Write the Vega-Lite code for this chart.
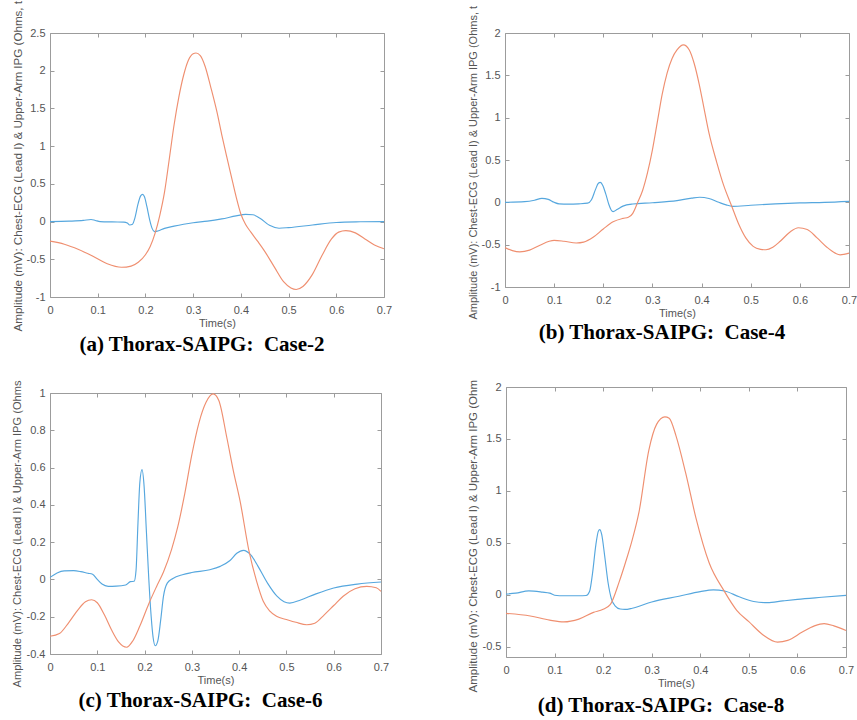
{
  "$schema": "https://vega.github.io/schema/vega-lite/v6.json",
  "background": "white",
  "padding": {"left": 10, "top": 0, "right": 0, "bottom": 0},
  "config": {
    "view": {"stroke": null},
    "font": "Liberation Sans",
    "axis": {"grid": false, "domainColor": "#9c9c9c", "tickColor": "#9c9c9c", "tickSize": -4, "labelFont": "Liberation Sans", "labelFontSize": 11, "labelColor": "#555555", "labelPadding": 9, "titleFont": "Liberation Sans", "titleFontSize": 11, "titleFontWeight": "normal", "titleColor": "#555555", "labelOverlap": false, "labelFlush": false},
    "axisX": {"labelPadding": 11, "titlePadding": 2},
    "title": {"font": "Liberation Serif", "fontSize": 21, "fontWeight": "bold", "color": "#000000", "orient": "bottom", "offset": 3, "dx": -15},
    "locale": {"number": {"decimal": ".", "thousands": ",", "grouping": [3], "currency": ["$", ""], "minus": "-"}}
  },
  "data": {"values": [
    {"p":"a","s":"E","t":0,"v":0},{"p":"a","s":"E","t":0.04,"v":0.005},{"p":"a","s":"E","t":0.07,"v":0.015},{"p":"a","s":"E","t":0.086,"v":0.028},{"p":"a","s":"E","t":0.095,"v":0.015},{"p":"a","s":"E","t":0.105,"v":0},{"p":"a","s":"E","t":0.13,"v":-0.005},{"p":"a","s":"E","t":0.155,"v":-0.007},{"p":"a","s":"E","t":0.162,"v":-0.02},{"p":"a","s":"E","t":0.167,"v":-0.045},{"p":"a","s":"E","t":0.173,"v":-0.035},{"p":"a","s":"E","t":0.178,"v":0.05},{"p":"a","s":"E","t":0.184,"v":0.22},{"p":"a","s":"E","t":0.19,"v":0.34},{"p":"a","s":"E","t":0.194,"v":0.36},{"p":"a","s":"E","t":0.198,"v":0.33},{"p":"a","s":"E","t":0.203,"v":0.2},{"p":"a","s":"E","t":0.209,"v":0.02},{"p":"a","s":"E","t":0.214,"v":-0.09},{"p":"a","s":"E","t":0.219,"v":-0.134},{"p":"a","s":"E","t":0.226,"v":-0.125},{"p":"a","s":"E","t":0.24,"v":-0.09},{"p":"a","s":"E","t":0.26,"v":-0.06},{"p":"a","s":"E","t":0.28,"v":-0.035},{"p":"a","s":"E","t":0.3,"v":-0.015},{"p":"a","s":"E","t":0.33,"v":0.005},{"p":"a","s":"E","t":0.36,"v":0.035},{"p":"a","s":"E","t":0.39,"v":0.075},{"p":"a","s":"E","t":0.41,"v":0.095},{"p":"a","s":"E","t":0.425,"v":0.09},{"p":"a","s":"E","t":0.44,"v":0.045},{"p":"a","s":"E","t":0.46,"v":-0.05},{"p":"a","s":"E","t":0.48,"v":-0.088},{"p":"a","s":"E","t":0.5,"v":-0.08},{"p":"a","s":"E","t":0.55,"v":-0.045},{"p":"a","s":"E","t":0.6,"v":-0.012},{"p":"a","s":"E","t":0.65,"v":-0.003},{"p":"a","s":"E","t":0.7,"v":0},
    {"p":"a","s":"I","t":0,"v":-0.26},{"p":"a","s":"I","t":0.03,"v":-0.3},{"p":"a","s":"I","t":0.06,"v":-0.37},{"p":"a","s":"I","t":0.09,"v":-0.46},{"p":"a","s":"I","t":0.12,"v":-0.56},{"p":"a","s":"I","t":0.15,"v":-0.606},{"p":"a","s":"I","t":0.17,"v":-0.59},{"p":"a","s":"I","t":0.185,"v":-0.54},{"p":"a","s":"I","t":0.2,"v":-0.44},{"p":"a","s":"I","t":0.21,"v":-0.33},{"p":"a","s":"I","t":0.22,"v":-0.16},{"p":"a","s":"I","t":0.23,"v":0.08},{"p":"a","s":"I","t":0.24,"v":0.39},{"p":"a","s":"I","t":0.25,"v":0.83},{"p":"a","s":"I","t":0.26,"v":1.28},{"p":"a","s":"I","t":0.27,"v":1.65},{"p":"a","s":"I","t":0.28,"v":1.94},{"p":"a","s":"I","t":0.29,"v":2.14},{"p":"a","s":"I","t":0.3,"v":2.225},{"p":"a","s":"I","t":0.306,"v":2.235},{"p":"a","s":"I","t":0.315,"v":2.2},{"p":"a","s":"I","t":0.325,"v":2.06},{"p":"a","s":"I","t":0.337,"v":1.78},{"p":"a","s":"I","t":0.35,"v":1.45},{"p":"a","s":"I","t":0.36,"v":1.15},{"p":"a","s":"I","t":0.37,"v":0.87},{"p":"a","s":"I","t":0.38,"v":0.6},{"p":"a","s":"I","t":0.39,"v":0.33},{"p":"a","s":"I","t":0.4,"v":0.1},{"p":"a","s":"I","t":0.41,"v":-0.04},{"p":"a","s":"I","t":0.421,"v":-0.14},{"p":"a","s":"I","t":0.435,"v":-0.26},{"p":"a","s":"I","t":0.449,"v":-0.385},{"p":"a","s":"I","t":0.47,"v":-0.6},{"p":"a","s":"I","t":0.49,"v":-0.8},{"p":"a","s":"I","t":0.505,"v":-0.88},{"p":"a","s":"I","t":0.516,"v":-0.9},{"p":"a","s":"I","t":0.53,"v":-0.86},{"p":"a","s":"I","t":0.55,"v":-0.7},{"p":"a","s":"I","t":0.57,"v":-0.45},{"p":"a","s":"I","t":0.59,"v":-0.23},{"p":"a","s":"I","t":0.605,"v":-0.14},{"p":"a","s":"I","t":0.62,"v":-0.12},{"p":"a","s":"I","t":0.64,"v":-0.15},{"p":"a","s":"I","t":0.66,"v":-0.23},{"p":"a","s":"I","t":0.68,"v":-0.31},{"p":"a","s":"I","t":0.7,"v":-0.36},
    {"p":"b","s":"E","t":0,"v":0},{"p":"b","s":"E","t":0.04,"v":0.008},{"p":"b","s":"E","t":0.06,"v":0.025},{"p":"b","s":"E","t":0.075,"v":0.047},{"p":"b","s":"E","t":0.088,"v":0.035},{"p":"b","s":"E","t":0.1,"v":0},{"p":"b","s":"E","t":0.11,"v":-0.018},{"p":"b","s":"E","t":0.13,"v":-0.022},{"p":"b","s":"E","t":0.15,"v":-0.018},{"p":"b","s":"E","t":0.168,"v":-0.01},{"p":"b","s":"E","t":0.176,"v":0.03},{"p":"b","s":"E","t":0.184,"v":0.15},{"p":"b","s":"E","t":0.19,"v":0.225},{"p":"b","s":"E","t":0.194,"v":0.236},{"p":"b","s":"E","t":0.199,"v":0.2},{"p":"b","s":"E","t":0.205,"v":0.1},{"p":"b","s":"E","t":0.211,"v":-0.02},{"p":"b","s":"E","t":0.216,"v":-0.09},{"p":"b","s":"E","t":0.22,"v":-0.11},{"p":"b","s":"E","t":0.228,"v":-0.085},{"p":"b","s":"E","t":0.24,"v":-0.045},{"p":"b","s":"E","t":0.26,"v":-0.02},{"p":"b","s":"E","t":0.3,"v":-0.005},{"p":"b","s":"E","t":0.35,"v":0.02},{"p":"b","s":"E","t":0.38,"v":0.05},{"p":"b","s":"E","t":0.396,"v":0.06},{"p":"b","s":"E","t":0.415,"v":0.045},{"p":"b","s":"E","t":0.435,"v":0},{"p":"b","s":"E","t":0.45,"v":-0.03},{"p":"b","s":"E","t":0.463,"v":-0.047},{"p":"b","s":"E","t":0.5,"v":-0.035},{"p":"b","s":"E","t":0.55,"v":-0.018},{"p":"b","s":"E","t":0.6,"v":-0.006},{"p":"b","s":"E","t":0.65,"v":0},{"p":"b","s":"E","t":0.7,"v":0.012},
    {"p":"b","s":"I","t":0,"v":-0.535},{"p":"b","s":"I","t":0.015,"v":-0.57},{"p":"b","s":"I","t":0.03,"v":-0.585},{"p":"b","s":"I","t":0.05,"v":-0.565},{"p":"b","s":"I","t":0.07,"v":-0.51},{"p":"b","s":"I","t":0.09,"v":-0.46},{"p":"b","s":"I","t":0.1,"v":-0.45},{"p":"b","s":"I","t":0.12,"v":-0.46},{"p":"b","s":"I","t":0.145,"v":-0.48},{"p":"b","s":"I","t":0.16,"v":-0.47},{"p":"b","s":"I","t":0.18,"v":-0.41},{"p":"b","s":"I","t":0.2,"v":-0.315},{"p":"b","s":"I","t":0.22,"v":-0.23},{"p":"b","s":"I","t":0.24,"v":-0.19},{"p":"b","s":"I","t":0.251,"v":-0.177},{"p":"b","s":"I","t":0.26,"v":-0.13},{"p":"b","s":"I","t":0.27,"v":0},{"p":"b","s":"I","t":0.28,"v":0.14},{"p":"b","s":"I","t":0.29,"v":0.35},{"p":"b","s":"I","t":0.3,"v":0.62},{"p":"b","s":"I","t":0.31,"v":0.95},{"p":"b","s":"I","t":0.32,"v":1.28},{"p":"b","s":"I","t":0.33,"v":1.53},{"p":"b","s":"I","t":0.34,"v":1.7},{"p":"b","s":"I","t":0.35,"v":1.8},{"p":"b","s":"I","t":0.363,"v":1.86},{"p":"b","s":"I","t":0.375,"v":1.8},{"p":"b","s":"I","t":0.385,"v":1.64},{"p":"b","s":"I","t":0.395,"v":1.4},{"p":"b","s":"I","t":0.404,"v":1.14},{"p":"b","s":"I","t":0.415,"v":0.82},{"p":"b","s":"I","t":0.431,"v":0.47},{"p":"b","s":"I","t":0.445,"v":0.2},{"p":"b","s":"I","t":0.461,"v":-0.04},{"p":"b","s":"I","t":0.475,"v":-0.25},{"p":"b","s":"I","t":0.49,"v":-0.42},{"p":"b","s":"I","t":0.505,"v":-0.52},{"p":"b","s":"I","t":0.52,"v":-0.555},{"p":"b","s":"I","t":0.531,"v":-0.56},{"p":"b","s":"I","t":0.545,"v":-0.53},{"p":"b","s":"I","t":0.56,"v":-0.46},{"p":"b","s":"I","t":0.58,"v":-0.35},{"p":"b","s":"I","t":0.597,"v":-0.3},{"p":"b","s":"I","t":0.615,"v":-0.32},{"p":"b","s":"I","t":0.635,"v":-0.42},{"p":"b","s":"I","t":0.655,"v":-0.53},{"p":"b","s":"I","t":0.672,"v":-0.6},{"p":"b","s":"I","t":0.682,"v":-0.62},{"p":"b","s":"I","t":0.7,"v":-0.6},
    {"p":"c","s":"E","t":0,"v":0.011},{"p":"c","s":"E","t":0.015,"v":0.035},{"p":"c","s":"E","t":0.03,"v":0.046},{"p":"c","s":"E","t":0.05,"v":0.047},{"p":"c","s":"E","t":0.065,"v":0.042},{"p":"c","s":"E","t":0.08,"v":0.033},{"p":"c","s":"E","t":0.09,"v":0.028},{"p":"c","s":"E","t":0.1,"v":0},{"p":"c","s":"E","t":0.11,"v":-0.025},{"p":"c","s":"E","t":0.123,"v":-0.037},{"p":"c","s":"E","t":0.14,"v":-0.036},{"p":"c","s":"E","t":0.16,"v":-0.03},{"p":"c","s":"E","t":0.17,"v":-0.012},{"p":"c","s":"E","t":0.178,"v":-0.01},{"p":"c","s":"E","t":0.182,"v":0.05},{"p":"c","s":"E","t":0.186,"v":0.3},{"p":"c","s":"E","t":0.19,"v":0.52},{"p":"c","s":"E","t":0.1946,"v":0.589},{"p":"c","s":"E","t":0.199,"v":0.5},{"p":"c","s":"E","t":0.204,"v":0.25},{"p":"c","s":"E","t":0.209,"v":0},{"p":"c","s":"E","t":0.214,"v":-0.2},{"p":"c","s":"E","t":0.218,"v":-0.31},{"p":"c","s":"E","t":0.2227,"v":-0.356},{"p":"c","s":"E","t":0.228,"v":-0.33},{"p":"c","s":"E","t":0.234,"v":-0.22},{"p":"c","s":"E","t":0.24,"v":-0.09},{"p":"c","s":"E","t":0.248,"v":-0.02},{"p":"c","s":"E","t":0.26,"v":0.005},{"p":"c","s":"E","t":0.28,"v":0.025},{"p":"c","s":"E","t":0.3,"v":0.037},{"p":"c","s":"E","t":0.338,"v":0.052},{"p":"c","s":"E","t":0.36,"v":0.07},{"p":"c","s":"E","t":0.38,"v":0.1},{"p":"c","s":"E","t":0.395,"v":0.14},{"p":"c","s":"E","t":0.409,"v":0.156},{"p":"c","s":"E","t":0.425,"v":0.13},{"p":"c","s":"E","t":0.44,"v":0.07},{"p":"c","s":"E","t":0.46,"v":-0.02},{"p":"c","s":"E","t":0.48,"v":-0.09},{"p":"c","s":"E","t":0.495,"v":-0.12},{"p":"c","s":"E","t":0.507,"v":-0.127},{"p":"c","s":"E","t":0.53,"v":-0.11},{"p":"c","s":"E","t":0.56,"v":-0.08},{"p":"c","s":"E","t":0.6,"v":-0.046},{"p":"c","s":"E","t":0.65,"v":-0.025},{"p":"c","s":"E","t":0.7,"v":-0.014},
    {"p":"c","s":"I","t":0,"v":-0.305},{"p":"c","s":"I","t":0.02,"v":-0.29},{"p":"c","s":"I","t":0.04,"v":-0.23},{"p":"c","s":"I","t":0.06,"v":-0.16},{"p":"c","s":"I","t":0.075,"v":-0.12},{"p":"c","s":"I","t":0.088,"v":-0.109},{"p":"c","s":"I","t":0.1,"v":-0.125},{"p":"c","s":"I","t":0.115,"v":-0.19},{"p":"c","s":"I","t":0.13,"v":-0.27},{"p":"c","s":"I","t":0.145,"v":-0.335},{"p":"c","s":"I","t":0.162,"v":-0.364},{"p":"c","s":"I","t":0.175,"v":-0.33},{"p":"c","s":"I","t":0.19,"v":-0.25},{"p":"c","s":"I","t":0.209,"v":-0.13},{"p":"c","s":"I","t":0.225,"v":-0.04},{"p":"c","s":"I","t":0.24,"v":0.04},{"p":"c","s":"I","t":0.257,"v":0.16},{"p":"c","s":"I","t":0.27,"v":0.28},{"p":"c","s":"I","t":0.285,"v":0.46},{"p":"c","s":"I","t":0.3,"v":0.669},{"p":"c","s":"I","t":0.315,"v":0.84},{"p":"c","s":"I","t":0.33,"v":0.95},{"p":"c","s":"I","t":0.345,"v":0.995},{"p":"c","s":"I","t":0.357,"v":0.96},{"p":"c","s":"I","t":0.374,"v":0.76},{"p":"c","s":"I","t":0.388,"v":0.58},{"p":"c","s":"I","t":0.402,"v":0.42},{"p":"c","s":"I","t":0.421,"v":0.15},{"p":"c","s":"I","t":0.437,"v":-0.01},{"p":"c","s":"I","t":0.451,"v":-0.117},{"p":"c","s":"I","t":0.465,"v":-0.17},{"p":"c","s":"I","t":0.479,"v":-0.198},{"p":"c","s":"I","t":0.5,"v":-0.215},{"p":"c","s":"I","t":0.52,"v":-0.23},{"p":"c","s":"I","t":0.543,"v":-0.243},{"p":"c","s":"I","t":0.56,"v":-0.235},{"p":"c","s":"I","t":0.58,"v":-0.19},{"p":"c","s":"I","t":0.6,"v":-0.14},{"p":"c","s":"I","t":0.62,"v":-0.09},{"p":"c","s":"I","t":0.645,"v":-0.05},{"p":"c","s":"I","t":0.67,"v":-0.037},{"p":"c","s":"I","t":0.69,"v":-0.045},{"p":"c","s":"I","t":0.7,"v":-0.064},
    {"p":"d","s":"E","t":0,"v":0.006},{"p":"d","s":"E","t":0.02,"v":0.015},{"p":"d","s":"E","t":0.047,"v":0.037},{"p":"d","s":"E","t":0.075,"v":0.025},{"p":"d","s":"E","t":0.09,"v":0.015},{"p":"d","s":"E","t":0.1,"v":-0.005},{"p":"d","s":"E","t":0.12,"v":-0.01},{"p":"d","s":"E","t":0.15,"v":-0.01},{"p":"d","s":"E","t":0.165,"v":-0.008},{"p":"d","s":"E","t":0.172,"v":0.03},{"p":"d","s":"E","t":0.178,"v":0.2},{"p":"d","s":"E","t":0.185,"v":0.48},{"p":"d","s":"E","t":0.19,"v":0.61},{"p":"d","s":"E","t":0.193,"v":0.627},{"p":"d","s":"E","t":0.197,"v":0.58},{"p":"d","s":"E","t":0.203,"v":0.38},{"p":"d","s":"E","t":0.21,"v":0.12},{"p":"d","s":"E","t":0.217,"v":-0.04},{"p":"d","s":"E","t":0.225,"v":-0.11},{"p":"d","s":"E","t":0.235,"v":-0.138},{"p":"d","s":"E","t":0.245,"v":-0.142},{"p":"d","s":"E","t":0.26,"v":-0.13},{"p":"d","s":"E","t":0.3,"v":-0.07},{"p":"d","s":"E","t":0.356,"v":-0.015},{"p":"d","s":"E","t":0.4,"v":0.03},{"p":"d","s":"E","t":0.427,"v":0.046},{"p":"d","s":"E","t":0.45,"v":0.035},{"p":"d","s":"E","t":0.48,"v":-0.02},{"p":"d","s":"E","t":0.51,"v":-0.065},{"p":"d","s":"E","t":0.538,"v":-0.077},{"p":"d","s":"E","t":0.57,"v":-0.06},{"p":"d","s":"E","t":0.6,"v":-0.045},{"p":"d","s":"E","t":0.65,"v":-0.025},{"p":"d","s":"E","t":0.7,"v":-0.006},
    {"p":"d","s":"I","t":0,"v":-0.18},{"p":"d","s":"I","t":0.05,"v":-0.205},{"p":"d","s":"I","t":0.09,"v":-0.245},{"p":"d","s":"I","t":0.119,"v":-0.262},{"p":"d","s":"I","t":0.15,"v":-0.235},{"p":"d","s":"I","t":0.18,"v":-0.17},{"p":"d","s":"I","t":0.2,"v":-0.14},{"p":"d","s":"I","t":0.215,"v":-0.093},{"p":"d","s":"I","t":0.233,"v":0.123},{"p":"d","s":"I","t":0.246,"v":0.31},{"p":"d","s":"I","t":0.26,"v":0.53},{"p":"d","s":"I","t":0.274,"v":0.8},{"p":"d","s":"I","t":0.294,"v":1.39},{"p":"d","s":"I","t":0.31,"v":1.64},{"p":"d","s":"I","t":0.327,"v":1.713},{"p":"d","s":"I","t":0.336,"v":1.7},{"p":"d","s":"I","t":0.35,"v":1.53},{"p":"d","s":"I","t":0.37,"v":1.17},{"p":"d","s":"I","t":0.391,"v":0.74},{"p":"d","s":"I","t":0.418,"v":0.31},{"p":"d","s":"I","t":0.449,"v":0.037},{"p":"d","s":"I","t":0.475,"v":-0.15},{"p":"d","s":"I","t":0.5,"v":-0.26},{"p":"d","s":"I","t":0.53,"v":-0.39},{"p":"d","s":"I","t":0.559,"v":-0.457},{"p":"d","s":"I","t":0.58,"v":-0.44},{"p":"d","s":"I","t":0.61,"v":-0.36},{"p":"d","s":"I","t":0.635,"v":-0.3},{"p":"d","s":"I","t":0.655,"v":-0.278},{"p":"d","s":"I","t":0.675,"v":-0.3},{"p":"d","s":"I","t":0.7,"v":-0.345}
  ]},
  "columns": 2,
  "align": "none",
  "bounds": "full",
  "spacing": {"row": 24, "column": 74},
  "concat": [
    {
      "width": 334, "height": 264,
      "title": {"text": "(a) Thorax-SAIPG:\u00a0 Case-2"},
      "transform": [{"filter": "datum.p == 'a'"}],
      "resolve": {"axis": {"x": "independent", "y": "independent"}},
      "layer": [
        {"mark": {"type": "line", "interpolate": "monotone", "strokeWidth": 1.15},
         "encoding": {
           "x": {"field": "t", "type": "quantitative", "scale": {"domain": [0, 0.7]}, "axis": {"title": "Time(s)", "values": [0,0.1,0.2,0.3,0.4,0.5,0.6,0.7], "format": "~g"}},
           "y": {"field": "v", "type": "quantitative", "scale": {"domain": [-1, 2.5]}, "axis": {"title": "Amplitude (mV): Chest-ECG (Lead I) & Upper-Arm IPG (Ohms, t", "values": [-1,-0.5,0,0.5,1,1.5,2,2.5], "format": "~g", "titleX": -28.5, "titleY": 298, "titleAlign": "left", "titleBaseline": "alphabetic", "titleAngle": 270, "titleFontSize": 11.6}},
           "color": {"field": "s", "type": "nominal", "scale": {"domain": ["E", "I"], "range": ["#56a7de", "#ef8f70"]}, "legend": null}
         }},
        {"mark": {"type": "line", "opacity": 0},
         "encoding": {
           "x": {"field": "t", "type": "quantitative", "axis": {"orient": "top", "labels": false, "title": null, "values": [0,0.1,0.2,0.3,0.4,0.5,0.6,0.7]}},
           "y": {"field": "v", "type": "quantitative", "axis": {"orient": "right", "labels": false, "title": null, "values": [-1,-0.5,0,0.5,1,1.5,2,2.5]}},
           "detail": {"field": "s"}
         }}
      ]
    },
    {
      "width": 344, "height": 254,
      "title": {"text": "(b) Thorax-SAIPG:\u00a0 Case-4"},
      "transform": [{"filter": "datum.p == 'b'"}],
      "resolve": {"axis": {"x": "independent", "y": "independent"}},
      "layer": [
        {"mark": {"type": "line", "interpolate": "monotone", "strokeWidth": 1.15},
         "encoding": {
           "x": {"field": "t", "type": "quantitative", "scale": {"domain": [0, 0.7]}, "axis": {"title": "Time(s)", "values": [0,0.1,0.2,0.3,0.4,0.5,0.6,0.7], "format": "~g"}},
           "y": {"field": "v", "type": "quantitative", "scale": {"domain": [-1, 2]}, "axis": {"title": "Amplitude (mV): Chest-ECG (Lead I) & Upper-Arm IPG (Ohms, t", "values": [-1,-0.5,0,0.5,1,1.5,2], "format": "~g", "titleX": -29, "titleY": 286, "titleAlign": "left", "titleBaseline": "alphabetic", "titleAngle": 270, "titleFontSize": 11}},
           "color": {"field": "s", "type": "nominal", "scale": {"domain": ["E", "I"], "range": ["#56a7de", "#ef8f70"]}, "legend": null}
         }},
        {"mark": {"type": "line", "opacity": 0},
         "encoding": {
           "x": {"field": "t", "type": "quantitative", "axis": {"orient": "top", "labels": false, "title": null, "values": [0,0.1,0.2,0.3,0.4,0.5,0.6,0.7]}},
           "y": {"field": "v", "type": "quantitative", "axis": {"orient": "right", "labels": false, "title": null, "values": [-1,-0.5,0,0.5,1,1.5,2]}},
           "detail": {"field": "s"}
         }}
      ]
    },
    {
      "width": 331, "height": 261,
      "title": {"text": "(c) Thorax-SAIPG:\u00a0 Case-6"},
      "transform": [{"filter": "datum.p == 'c'"}],
      "resolve": {"axis": {"x": "independent", "y": "independent"}},
      "layer": [
        {"mark": {"type": "line", "interpolate": "monotone", "strokeWidth": 1.15},
         "encoding": {
           "x": {"field": "t", "type": "quantitative", "scale": {"domain": [0, 0.7]}, "axis": {"title": "Time(s)", "values": [0,0.1,0.2,0.3,0.4,0.5,0.6,0.7], "format": "~g"}},
           "y": {"field": "v", "type": "quantitative", "scale": {"domain": [-0.4, 1]}, "axis": {"title": "Amplitude (mV): Chest-ECG (Lead I) & Upper-Arm IPG (Ohms", "values": [-0.4,-0.2,0,0.2,0.4,0.6,0.8,1], "format": "~g", "titleX": -30, "titleY": 294, "titleAlign": "left", "titleBaseline": "alphabetic", "titleAngle": 270, "titleFontSize": 11.1}},
           "color": {"field": "s", "type": "nominal", "scale": {"domain": ["E", "I"], "range": ["#56a7de", "#ef8f70"]}, "legend": null}
         }},
        {"mark": {"type": "line", "opacity": 0},
         "encoding": {
           "x": {"field": "t", "type": "quantitative", "axis": {"orient": "top", "labels": false, "title": null, "values": [0,0.1,0.2,0.3,0.4,0.5,0.6,0.7]}},
           "y": {"field": "v", "type": "quantitative", "axis": {"orient": "right", "labels": false, "title": null, "values": [-0.4,-0.2,0,0.2,0.4,0.6,0.8,1]}},
           "detail": {"field": "s"}
         }}
      ]
    },
    {
      "width": 340, "height": 270,
      "title": {"text": "(d) Thorax-SAIPG:\u00a0 Case-8"},
      "transform": [{"filter": "datum.p == 'd'"}],
      "resolve": {"axis": {"x": "independent", "y": "independent"}},
      "layer": [
        {"mark": {"type": "line", "interpolate": "monotone", "strokeWidth": 1.15},
         "encoding": {
           "x": {"field": "t", "type": "quantitative", "scale": {"domain": [0, 0.7]}, "axis": {"title": "Time(s)", "values": [0,0.1,0.2,0.3,0.4,0.5,0.6,0.7], "format": "~g"}},
           "y": {"field": "v", "type": "quantitative", "scale": {"domain": [-0.5, 2]}, "axis": {"title": "Amplitude (mV): Chest-ECG (Lead I) & Upper-Arm IPG (Ohm", "values": [-0.5,0,0.5,1,1.5,2], "format": "~g", "titleX": -30, "titleY": 305, "titleAlign": "left", "titleBaseline": "alphabetic", "titleAngle": 270, "titleFontSize": 11.5}},
           "color": {"field": "s", "type": "nominal", "scale": {"domain": ["E", "I"], "range": ["#56a7de", "#ef8f70"]}, "legend": null}
         }},
        {"mark": {"type": "line", "opacity": 0},
         "encoding": {
           "x": {"field": "t", "type": "quantitative", "axis": {"orient": "top", "labels": false, "title": null, "values": [0,0.1,0.2,0.3,0.4,0.5,0.6,0.7]}},
           "y": {"field": "v", "type": "quantitative", "axis": {"orient": "right", "labels": false, "title": null, "values": [-0.5,0,0.5,1,1.5,2]}},
           "detail": {"field": "s"}
         }}
      ]
    }
  ]
}
